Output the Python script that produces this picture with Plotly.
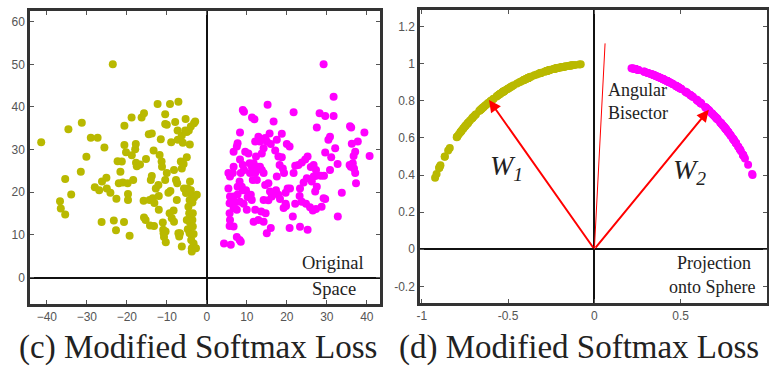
import numpy as np
import plotly.graph_objects as go

# ---------------- data ----------------
yellow_x = [-23.5, -41.4, -34.6, -31.25, -35.4, -36.7, -36.5, -35.4, -33.9, -31.5, -30.1, -29, -27.3, -25.6, -28, -26.9,
            -26.3, -26.2, -25.1, -25, -24.1, -23.25, -22.7, -22.6, -22.3, -21.25, -21.6, -22, -21, -20.6, -20.6, -20.7,
            -20.2, -19.8, -19.7, -19.7, -19.3, -18.8, -18.75, -18.4, -17.9, -17.75, -17.7, -17.5, -16.7, -16.3, -15.7,
            -15.8, -15.7, -15.3, -15.2, -14.5, -14.3, -14.2, -14, -13.75, -13.75, -13.5, -13.3, -13.2, -13.1, -12.75,
            -12.3, -12.1, -12, -12, -11.8, -11.5, -11.3, -11.2, -11, -10.9, -10.8, -10.7, -10.3, -10.4, -10.4, -10.4,
            -10, -10, -10.25, -9.6, -9.3, -9.2, -9.1, -8.9, -8.75, -8.3, -8.2, -8.2, -7.9, -7.7, -7.4, -7.5, -7.1, -7.25,
            -7.3, -7.1, -6.9, -6.7, -6.5, -6.25, -6.25, -6.25, -6, -5.8, -5.7, -5.4, -5.3, -5.2, -5, -5, -5, -4.8, -4.75,
            -4.6, -4.5, -4.4, -4.3, -4.3, -4.25, -4.2, -4.2, -4, -4, -3.9, -3.75, -3.75, -3.7, -3.6, -3.6, -3.5, -3.5,
            -3.3, -3.3, -3.2, -3.2, -2.9, -2.5, -2.7]
yellow_y = [50, 31.7, 34.8, 36.3, 23.1, 17.9, 16.2, 14.8, 19.5, 24.8, 28.3, 32.8, 32.8, 30.5, 21.2, 20.5,
            13, 22.5, 23.4, 20.9, 19.9, 13.4, 11.1, 18.5, 27.3, 27.2, 24.8, 22.1, 22.3, 31.1, 35.6, 13.0,
            29.4, 22.1, 19.6, 18.2, 9.8, 37.5, 28.7, 22.9, 30.1, 31.3, 26.9, 26.1, 26.5, 37.5, 38.5,
            18.0, 14.1, 13.5, 27.8, 33.6, 18.2, 12.2, 22.9, 33.8, 23.8, 18.6, 29.8, 12.1, 17.5, 20.9,
            40.7, 21.7, 15.9, 19.1, 28.75, 32.4, 27.2, 26, 12.9, 11.2, 10.4, 9.5, 10.8, 38.3, 22.9, 36,
            35.8, 24.5, 8.3, 19.9, 15.1, 40.7, 20.3, 31.7, 13.9, 15.7, 25.2, 13.1, 36.5, 22.9, 22.1, 18.2, 41.2, 32.3,
            34.5, 10.4, 9.6, 10.4, 27.2, 7.3, 25.6, 33.3, 31.6, 26.6, 20.9, 34.5, 37.2, 19.8, 34.1, 28.2, 13.5, 20.9, 11.3,
            16.6, 34.5, 15.1, 18.2, 10.4, 31.2, 22.5, 12.9, 20.5, 35.4, 8.8, 6.9, 6.1, 19.2, 17.6, 13.5, 15.1, 12,
            10.2, 8.0, 18.8, 36.2, 36.6, 19.4, 6.9]

magenta_x = [29.2, 31.7, 9.0, 9.3, 11.3, 11.9, 15.2, 21.7, 28.2, 29.6, 31.7, 27.5, 35.8, 36.1, 39.4, 37.75, 40.7, 36.25,
             37.1, 36.7, 36.5, 35.7, 36, 36.8, 37.1, 37.3, 33.75, 32.75, 32.7, 32.1, 30.8, 30.4, 31.1, 29.6, 30.8, 28.5,
             29.3, 27.3, 26.7, 26.25, 27.5, 27.1, 29.2, 29.6, 28.7, 27.3, 26.5, 25.8, 25.2, 23.3, 24.8, 23.75, 23.2, 23.3,
             24.2, 25, 25.2, 24.6, 23.75, 22.9, 22.1, 21.7, 20.8, 20.2, 19.7, 19.7, 20.7, 20.7, 20, 22.1, 21.5, 18.75,
             18.75, 19, 19.3, 18.2, 17.9, 17.1, 17.5, 16.7, 16, 15, 15.7, 17.5, 17.3, 17.9, 18.3, 19.2, 19.8, 16.25,
             15.8, 15.4, 14.6, 15, 16, 15.4, 14.2, 13.75, 14.2, 14.6, 13.3, 12.9, 12.1, 12.3, 11.7, 12.7, 13.3, 13.75,
             14.2, 12.1, 11.5, 12.5, 11.25, 10.4, 10.7, 10.8, 9.8, 10.2, 11, 11.25, 11.7, 12.9, 14.2, 13.6, 14.7, 12.1,
             10, 9.2, 8.3, 7.5, 7.7, 7.7, 8.2, 8.5, 9.3, 9.0, 8.3, 7.5, 7.7, 6.7, 6.7, 6.5, 5.8, 5.4, 5.4, 5.8, 5.7,
             6.7, 5.7, 5.8, 5.7, 6.7, 7.5, 8.2, 8.5, 6, 4.3, 8.3, 9.6, 8.75, 9.0, 6.7, 7.1, 26, 26.7, 27.3]
magenta_y = [50, 42.4, 39.3, 38.9, 37.5, 37.1, 40.5, 38.75, 38.5, 37.9, 37.9, 35.2, 35.5, 35.2, 34.0, 31.9, 28.5, 31.4,
             29.5, 28.5, 26.8, 26.4, 26.0, 25.6, 24.5, 22.1, 19.9, 14.3, 26.6, 30.3, 33.0, 32.3, 28.2, 29.3, 25.2, 23.9,
             23.9, 23.9, 23.7, 22.5, 21.3, 20.2, 18.6, 18.4, 16.6, 16.1, 15.7, 16.5, 11.2, 11.9, 17.3, 17.8, 19.1, 20.9,
             22.3, 23.3, 28.4, 27.7, 27.0, 26.4, 26.2, 24.5, 20.9, 20.9, 19.9, 17.3, 11.6, 30.7, 31.3, 17.3, 14.3, 33.7,
             28.2, 25.6, 24.5, 26.4, 28.4, 29.8, 32.3, 36.6, 31.3, 31.9, 33.8, 23.7, 20.5, 19.4, 18.4, 16.3, 16.8, 19.0,
             20.2, 22.1, 21.7, 10.4, 11.6, 18.1, 18.2, 29.1, 30.3, 32.7, 31.9, 33.0, 31.9, 28.4, 26.8, 26.0, 26.0, 25.2,
             24.5, 24.5, 22.9, 22.9, 26.0, 29.1, 26.8, 24.5, 20.5, 18.9, 19.4, 18.2, 13.1, 13.5, 13.1, 15.5, 15.1, 15.9,
             15.9, 17.3, 17.8, 15.9, 19.5, 21.3, 22.5, 24.5, 25.2, 26.4, 27.7, 30.7, 31.5, 29.5, 26.0, 24.5, 23.7, 24.5, 20.9, 19.0, 17.4,
             16.3, 15.1, 13.5, 12.1, 12.0, 9.5, 8.8, 8.4, 7.7, 8.0, 34.0, 29.5, 21.3, 20.5, 19.0, 17.6, 25.9, 26.4, 25.2]

# weight vectors and angular bisector (right panel)
w1_vec = [-0.61, 0.805]
w2_vec = [0.663, 0.752]
bisector_x = [0, 0.062]
bisector_y = [0, 1.11]

left_xticks = [-40, -30, -20, -10, 0, 10, 20, 30, 40]
left_yticks = [0, 10, 20, 30, 40, 50, 60]
right_xticks = [-1, -0.5, 0, 0.5, 1]
right_xticklabels = ["-1", "-0.5", "0", "0.5", "1"]
right_yticks = [-0.2, 0, 0.2, 0.4, 0.6, 0.8, 1, 1.2]
right_yticklabels = ["-0.2", "0", "0.2", "0.4", "0.6", "0.8", "1", "1.2"]

# projection onto the unit sphere of the original points
yx, yy = np.array(yellow_x), np.array(yellow_y)
mx, my = np.array(magenta_x), np.array(magenta_y)
yr = np.hypot(yx, yy)
mr = np.hypot(mx, my)

YEL = "#b9b900"
MAG = "#ff00ff"
W, H = 769, 366

fig = go.Figure()
fig.add_trace(go.Scatter(x=yellow_x, y=yellow_y, mode="markers", xaxis="x", yaxis="y",
                         marker=dict(color=YEL, size=8), hoverinfo="skip"))
fig.add_trace(go.Scatter(x=magenta_x, y=magenta_y, mode="markers", xaxis="x", yaxis="y",
                         marker=dict(color=MAG, size=8), hoverinfo="skip"))
fig.add_trace(go.Scatter(x=yx / yr, y=yy / yr, mode="markers", xaxis="x2", yaxis="y2",
                         marker=dict(color=YEL, size=8), hoverinfo="skip"))
fig.add_trace(go.Scatter(x=mx / mr, y=my / mr, mode="markers", xaxis="x2", yaxis="y2",
                         marker=dict(color=MAG, size=8), hoverinfo="skip"))
fig.add_trace(go.Scatter(x=bisector_x, y=bisector_y, mode="lines", xaxis="x2", yaxis="y2",
                         line=dict(color="red", width=1), hoverinfo="skip"))

tickfont = dict(family="Liberation Sans", size=12, color="#555")
common = dict(showgrid=False, showline=True, linecolor="#333", linewidth=2.5, mirror="ticks",
              ticks="inside", ticklen=4, tickcolor="#555", tickfont=tickfont,
              zeroline=True, zerolinecolor="#111", zerolinewidth=1.5, automargin=False)

fig.update_layout(
    width=W, height=H, margin=dict(l=0, r=0, t=0, b=0),
    paper_bgcolor="white", plot_bgcolor="white", showlegend=False,
    font=dict(family="Liberation Serif"),
    xaxis=dict(domain=[30 / W, 380 / W], range=[-44.2, 43.3], tickvals=left_xticks, anchor="y", **common),
    yaxis=dict(domain=[62 / H, 355 / H], range=[-6.2, 62.5], tickvals=left_yticks, anchor="x", **common),
    xaxis2=dict(domain=[420 / W, 767 / W], range=[-1.01, 1.0], tickvals=right_xticks,
                ticktext=right_xticklabels, anchor="y2", **common),
    yaxis2=dict(domain=[63 / H, 356 / H], range=[-0.29, 1.29], tickvals=right_yticks,
                ticktext=right_yticklabels, anchor="x2", **common),
)

serif = "Liberation Serif"
ann = []
# arrows W1, W2
for v in (w1_vec, w2_vec):
    ann.append(dict(x=v[0], y=v[1], ax=0, ay=0, xref="x2", yref="y2", axref="x2", ayref="y2",
                    showarrow=True, arrowhead=2, arrowsize=1.2, arrowwidth=2, arrowcolor="red", text=""))
ann += [
    dict(x=-0.51, y=0.44, xref="x2", yref="y2", text="<i>W<sub>1</sub></i>", showarrow=False,
         font=dict(family=serif, size=28, color="#222")),
    dict(x=0.55, y=0.42, xref="x2", yref="y2", text="<i>W<sub>2</sub></i>", showarrow=False,
         font=dict(family=serif, size=28, color="#222")),
    dict(x=0.07, y=0.86, xref="x2", yref="y2", text="Angular", showarrow=False, xanchor="left",
         font=dict(family=serif, size=18, color="#222")),
    dict(x=0.07, y=0.735, xref="x2", yref="y2", text="Bisector", showarrow=False, xanchor="left",
         font=dict(family=serif, size=18, color="#222")),
    dict(x=0.92, y=-0.074, xref="x2", yref="y2", text="Projection", showarrow=False, xanchor="right",
         font=dict(family=serif, size=18, color="#222")),
    dict(x=0.94, y=-0.205, xref="x2", yref="y2", text="onto Sphere", showarrow=False, xanchor="right",
         font=dict(family=serif, size=18, color="#222")),
    dict(x=39.8, y=3.4, xref="x", yref="y", text="Original", showarrow=False, xanchor="right",
         font=dict(family=serif, size=18.5, color="#222")),
    dict(x=37.9, y=-2.7, xref="x", yref="y", text="Space", showarrow=False, xanchor="right",
         font=dict(family=serif, size=18.5, color="#222")),
    dict(x=198 / W, y=(H - 347) / H, xref="paper", yref="paper", text="(c) Modified Softmax Loss",
         xanchor="center", yanchor="middle",
         showarrow=False, font=dict(family=serif, size=33, color="#222")),
    dict(x=579 / W, y=(H - 347) / H, xref="paper", yref="paper", text="(d) Modified Softmax Loss",
         xanchor="center", yanchor="middle",
         showarrow=False, font=dict(family=serif, size=33, color="#222")),
]
fig.update_layout(annotations=ann)

fig.write_html("out.html", config=dict(displayModeBar=False))
